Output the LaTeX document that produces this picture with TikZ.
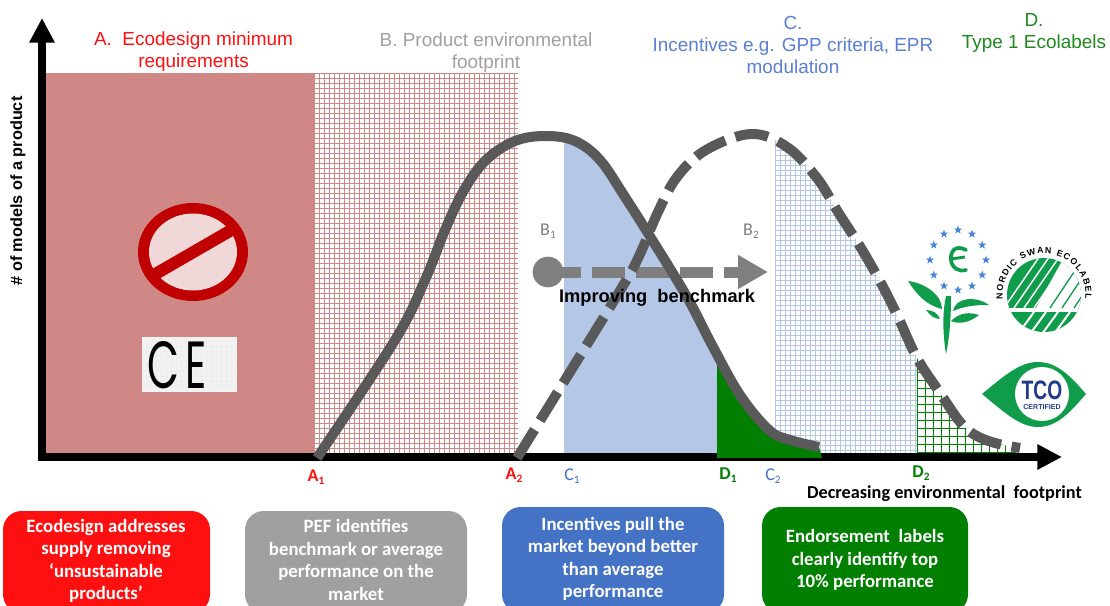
\documentclass[tikz,border=0pt]{standalone}
\usepackage{fontspec}
\setmainfont{Liberation Sans}
\newfontfamily\calfont{Carlito}
\newfontfamily\ceFont{Poppins}
\usetikzlibrary{arrows.meta,shapes.geometric,decorations.text}
\definecolor{redfill}{HTML}{D08886}
\definecolor{curvegray}{HTML}{595959}
\definecolor{arrowgray}{HTML}{7F7F7F}
\definecolor{lightblue}{HTML}{B4C7E7}
\definecolor{boxred}{HTML}{FF1010}
\definecolor{boxgray}{HTML}{A0A0A0}
\definecolor{boxblue}{HTML}{4472C4}
\definecolor{boxgreen}{HTML}{007F00}
\definecolor{titleblue}{HTML}{5B7FD6}
\definecolor{titlegreen}{HTML}{1E8A1E}
\definecolor{logogreen}{HTML}{0F9D4B}
\definecolor{banred}{HTML}{C00000}
\definecolor{banpale}{HTML}{F0D8D8}
\definecolor{tconavy}{HTML}{1F3A8A}
\definecolor{starblue}{HTML}{4A86D8}
\newcommand\subidx[1]{\raisebox{-0.35ex}{\fontsize{8.5}{9}\selectfont #1}}
\newcommand\solidcurve{plot[smooth,tension=0.6] coordinates {(317,458) (395,340) (425,280) (445,230) (464,190) (486,160) (515,141) (546,136) (575,141) (600,160) (625,197) (651,238) (687,297) (712,345) (740,395) (769,430) (790,440) (819,447)}}
\newcommand\dashcurve{plot[smooth,tension=0.6] coordinates {(517,458) (570,372) (624,284) (640,254) (658,212) (677,177) (706,150) (751,134) (787,147) (817,178) (838,212) (861,248) (882,285) (898,317) (917,358) (938,390) (960,422) (975,435) (995,443) (1020,448)}}
\tikzset{
  x=0.75pt,y=-0.75pt,
  every node/.style={inner sep=0pt,outer sep=0pt},
  title/.style={align=center,font=\fontsize{14.2}{16.5}\selectfont},
  msgbox/.style={rounded corners=14pt,draw=none},
  msgtext/.style={align=center,text=white,font=\calfont\bfseries\fontsize{14.1}{16.9}\selectfont},
  axis/.style={line width=6.4pt,-{Triangle[length=18.5pt,width=18pt]}},
  curveline/.style={line width=7.5pt,curvegray,line join=round},
  tick/.style={font=\calfont\bfseries\fontsize{13.5}{15}\selectfont},
  gridline/.style={line width=1.125pt},
  leaf/.style={fill=logogreen,draw=none},
  celetter/.style={font=\ceFont\fontsize{50}{50}\selectfont,xscale=0.62},
}
\begin{document}
\begin{tikzpicture}
\path[use as bounding box,clip] (0,0) rectangle (1110,606);
\fill[white] (0,0) rectangle (1110,606);

% region A: solid and hatched
\fill[redfill] (46,73) rectangle (314,455);
\begin{scope}
  \clip (314,73) rectangle (518,455);
  \foreach \i in {0,...,40} \draw[redfill,gridline] ({314.5+5*\i},73) -- ++(0,385);
  \foreach \i in {0,...,76} \draw[redfill,gridline] (314,{73.5+5*\i}) -- ++(205,0);
\end{scope}

% region C: solid blue and hatched blue
\begin{scope}
  \clip \solidcurve -- (819,456) -- cycle;
  \fill[lightblue] (564,100) rectangle (717,453);
\end{scope}
\begin{scope}
  \clip \dashcurve -- (1020,456) -- cycle;
  \clip (775,100) rectangle (917,454);
  \foreach \i in {0,...,29} \draw[lightblue,gridline] ({775.5+5*\i},100) -- ++(0,360);
  \foreach \i in {0,...,70} \draw[lightblue,gridline] (770,{100.5+5*\i}) -- ++(150,0);
\end{scope}

% region D2: green hatch
\begin{scope}
  \clip \dashcurve -- (1020,454) -- cycle;
  \clip (917,300) rectangle (1016,454);
  \foreach \i in {0,...,13} \draw[boxgreen,gridline] ({917.5+8*\i},300) -- ++(0,160);
  \foreach \i in {0,...,20} \draw[boxgreen,gridline] (910,{452.5-8*\i}) -- ++(115,0);
\end{scope}

% axes
\coordinate (origin) at (42,457);
\coordinate (ytip) at (42,18);
\coordinate (xtip) at (1062,457);
\draw[axis] (38,457) -- (xtip);
\draw[axis] (origin) -- (ytip);

% region D1: solid green over the axis
\begin{scope}
  \clip \solidcurve -- (822,458) -- cycle;
  \fill[boxgreen] (717,300) rectangle (825,458);
\end{scope}

% improving benchmark arrow
\node[circle,fill=arrowgray,minimum size=23pt] (dotB) at (548,272) {};
\coordinate (arrowB) at (768,272);
\draw[arrowgray,line width=8.25pt,dash pattern=on 24.75pt off 8.25pt,-{Triangle[length=22.5pt,width=24pt]}] (dotB.center) -- (arrowB);

% the two curves
\draw[curveline] \solidcurve;
\draw[curveline,dash pattern=on 25pt off 8pt] \dashcurve;

% titles
\node[title,text=boxred] (titleA) at (193.5,52) {A.\ \ Ecodesign minimum\\requirements};
\node[title,text=boxgray] (titleB) at (486,53) {B.\ Product environmental\\footprint};
\node[title,text=titleblue] (titleC) at (793,45) {C.\\Incentives e.g. GPP criteria, EPR\\modulation};
\node[title,text=titlegreen] (titleD) at (1034,33) {D.\\Type 1 Ecolabels};

% axis labels
\node[rotate=90,font=\bfseries\fontsize{12.2}{14}\selectfont] (ylabel) at (18,191) {\#\ of models of a product};
\node[font=\calfont\bfseries\fontsize{13.7}{15}\selectfont] (xlabel) at (944.5,494) {Decreasing environmental\ \ footprint};
\node[font=\bfseries\fontsize{13.7}{15}\selectfont] (improve) at (657,298) {Improving\ \ benchmark};

% tick labels
\node[tick,text=boxred] (A1) at (316,477) {A\subidx{1}};
\node[tick,text=boxred] (A2) at (514,475) {A\subidx{2}};
\node[tick,text=boxblue,font=\calfont\fontsize{13.5}{15}\selectfont] (C1) at (572,476) {C\subidx{1}};
\node[tick,text=boxgreen] (D1) at (728,475) {D\subidx{1}};
\node[tick,text=boxblue,font=\calfont\fontsize{13.5}{15}\selectfont] (C2) at (773,476) {C\subidx{2}};
\node[tick,text=boxgreen] (D2) at (921,473) {D\subidx{2}};
\node[font=\calfont\fontsize{13.5}{15}\selectfont,text=arrowgray] (B1) at (548,231) {B\subidx{1}};
\node[font=\calfont\fontsize{13.5}{15}\selectfont,text=arrowgray] (B2) at (751,231) {B\subidx{2}};

% message boxes
\fill[boxred,msgbox] (3,511) rectangle (210,613);
\fill[boxgray,msgbox] (245,511) rectangle (467,613);
\fill[boxblue,msgbox] (502,507) rectangle (724,613);
\fill[boxgreen,msgbox] (762,507) rectangle (968,613);
\node[msgtext] (msgA) at (106,561) {Ecodesign addresses\\supply removing\\‘unsustainable\\products’};
\node[msgtext] (msgB) at (356,560) {PEF identifies\\benchmark or average\\performance on the\\market};
\node[msgtext] (msgC) at (613,559) {Incentives pull the\\market beyond better\\than average\\performance};
\node[msgtext] (msgD) at (865,560) {Endorsement\ \ labels\\clearly identify top\\10\% performance};

% prohibition sign
\fill[banred] (193,252) ellipse [x radius=55,y radius=49];
\fill[banpale] (193,252) ellipse [x radius=44,y radius=38.5];
\draw[banred,line width=9pt] (152,276) -- (235,228);

% CE mark
\fill[white!95!black] (142,337) rectangle (237,392);
\begin{scope}
  \clip (146,341) rectangle (233,388);
  \foreach \i in {0,...,17} \draw[black!7,line width=0.3pt] ({146+5*\i},341) -- ++(0,47);
  \foreach \i in {0,...,9} \draw[black!7,line width=0.3pt] (146,{341+5*\i}) -- ++(87,0);
\end{scope}
\node[celetter] (ceC) at (163,365) {C};
\node[celetter] (ceE) at (196,365) {E};

% EU flower
\foreach \a in {0,30,...,330}
  \node[star,star points=5,star point ratio=2.4,fill=starblue,minimum size=6.5pt] (st\a) at ({958+28*cos(\a)},{260+30*sin(\a)}) {};
\draw[logogreen,line width=2.8pt,line cap=round] (966,250) .. controls (955,244) and (950,252) .. (951,260) .. controls (952,268) and (958,272) .. (966,270);
\draw[logogreen,line width=2.2pt] (951,259) -- (965,257);
\fill[logogreen] (946,296) .. controls (942,315) and (943,335) .. (946,354) .. controls (950,335) and (951,315) .. (951,296) -- cycle;
\fill[leaf] (908,281) .. controls (925,283) and (942,295) .. (942,309) .. controls (926,305) and (917,295) .. (908,281) -- cycle;
\fill[leaf] (953,311) .. controls (955,298) and (975,295) .. (989,305) .. controls (975,305) and (965,306) .. (953,311) -- cycle;
\fill[leaf] (951,321) .. controls (960,312) and (970,312) .. (979,315) .. controls (970,322) and (960,325) .. (951,321) -- cycle;
\fill[leaf] (926,310) .. controls (932,310) and (938,313) .. (940,319) .. controls (934,319) and (930,315) .. (926,310) -- cycle;

% Nordic swan
\begin{scope}
  \clip (1044,295) circle [x radius=37,y radius=37];
  \fill[logogreen] (1000,250) rectangle (1090,340);
  \fill[white] (1000,308) rectangle (1090,312);
  \fill[white] (1068,250) -- (1090,250) -- (1090,308) -- (1036,308) -- cycle;
  \foreach \b in {1004,1014,1024,1034} \draw[white,line width=1.1pt] (\b,308) -- ++(40,-58);
  \foreach \b in {1050,1062,1074} \draw[logogreen,line width=1pt] (\b,308) -- ++(30,-45);
  \foreach \b in {1018,1030,1042,1054,1066} \draw[white,line width=1.5pt] (\b,334) -- ++(16,-22);
\end{scope}
\path[decorate,decoration={text along path,text align={fit to path},text={|\bfseries\fontsize{6.6}{7}\selectfont|NORDIC SWAN ECOLABEL}}]
  plot[domain=186:-6,samples=50] ({1044+41.5*cos(\x)},{295-41.5*sin(\x)});

% TCO eye
\fill[logogreen] (982,394) .. controls (1005,375) and (1020,362) .. (1038,362) .. controls (1058,362) and (1072,378) .. (1086,394) .. controls (1072,410) and (1058,427) .. (1038,427) .. controls (1020,427) and (1005,413) .. (982,394) -- cycle;
\fill[white] (1042,394) circle [x radius=27,y radius=27];
\node[font=\bfseries\fontsize{20}{20}\selectfont,text=tconavy,xscale=0.72] (tco) at (1042,390) {TCO};
\node[font=\bfseries\fontsize{5.3}{6}\selectfont,text=tconavy] (tcocert) at (1042,407) {CERTIFIED};
\end{tikzpicture}
\end{document}
